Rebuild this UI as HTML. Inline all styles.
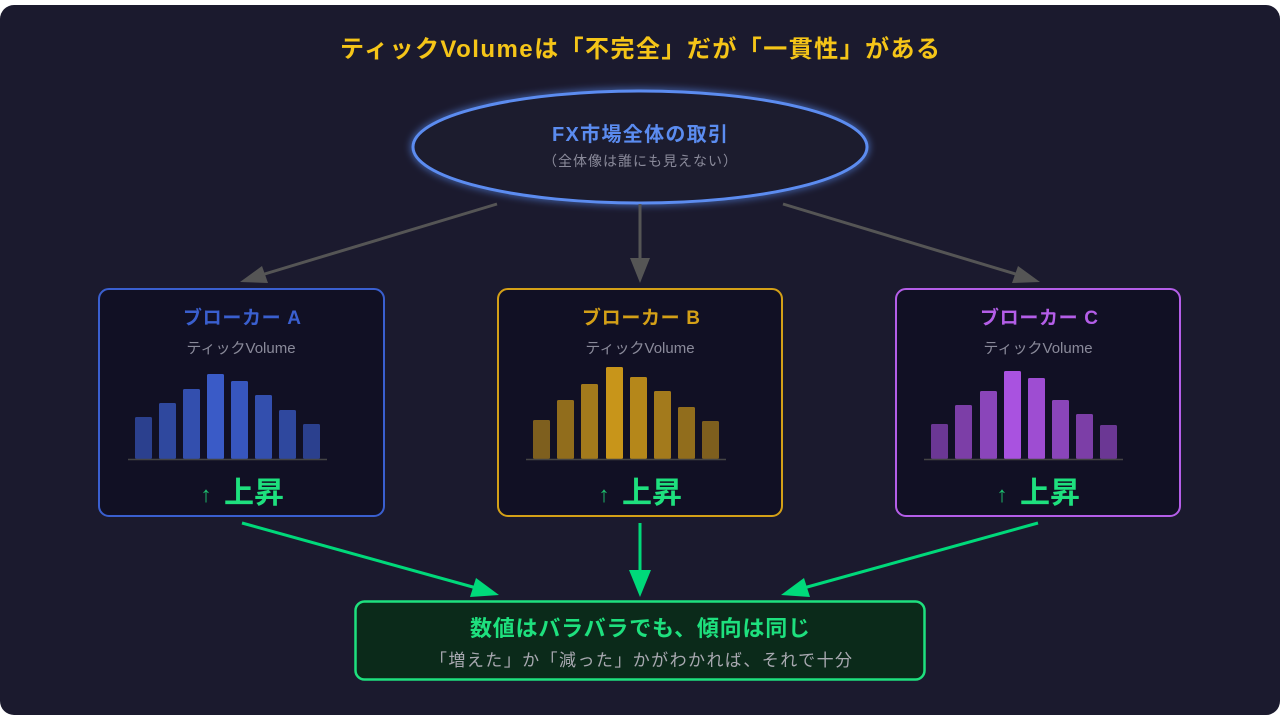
<!DOCTYPE html>
<html><head><meta charset="utf-8"><style>
html,body{margin:0;padding:0;background:#fff;width:1280px;height:720px;overflow:hidden}
svg{display:block}
text{font-family:"Liberation Sans","Noto Sans CJK JP",sans-serif}
</style></head><body>
<svg width="1280" height="720" viewBox="0 0 1280 720">
<defs>
<filter id="glow" x="-20%" y="-50%" width="140%" height="200%"><feGaussianBlur stdDeviation="4" result="b"/><feMerge><feMergeNode in="b"/><feMergeNode in="SourceGraphic"/></feMerge></filter>
</defs>
<rect x="0" y="5" width="1280" height="710" rx="14" fill="#1b1a2e"/>
<text x="340" y="57" font-size="24" font-weight="bold" fill="#f5c518" textLength="600" lengthAdjust="spacing">ティックVolumeは「不完全」だが「一貫性」がある</text>

<ellipse cx="640" cy="147" rx="227" ry="56" fill="#1b1a2e" stroke="#5b8cf0" stroke-width="3" filter="url(#glow)"/>
<text x="552" y="141" font-size="20" font-weight="bold" fill="#5b8cf0" textLength="176" lengthAdjust="spacing">FX市場全体の取引</text>
<text x="543" y="166" font-size="14" fill="#8a8a9a" textLength="194" lengthAdjust="spacing">（全体像は誰にも見えない）</text>

<g stroke="#555" stroke-width="3" fill="#555">
<line x1="497" y1="204" x2="258" y2="276"/>
<polygon points="240,282 262,266 268,283" stroke="none"/>
<line x1="640" y1="204" x2="640" y2="262"/>
<polygon points="640,283 630,258 650,258" stroke="none"/>
<line x1="783" y1="204" x2="1022" y2="276"/>
<polygon points="1040,282 1012,283 1018,266" stroke="none"/>
</g>

<rect x="99" y="289" width="285" height="227" rx="10" fill="#111024" stroke="#3a5fcf" stroke-width="2"/>
<text x="183" y="324" font-size="19" font-weight="bold" fill="#3a5fcf" textLength="118" lengthAdjust="spacing">ブローカー A</text>
<text x="241" y="353" text-anchor="middle" font-size="15" fill="#8a8a9a">ティックVolume</text>
<g fill="#3a5bc7">
<rect x="135" y="417" width="17" height="42" rx="1.5" opacity="0.65"/>
<rect x="159" y="403" width="17" height="56" rx="1.5" opacity="0.75"/>
<rect x="183" y="389" width="17" height="70" rx="1.5" opacity="0.85"/>
<rect x="207" y="374" width="17" height="85" rx="1.5"/>
<rect x="231" y="381" width="17" height="78" rx="1.5" opacity="0.95"/>
<rect x="255" y="395" width="17" height="64" rx="1.5" opacity="0.85"/>
<rect x="279" y="410" width="17" height="49" rx="1.5" opacity="0.75"/>
<rect x="303" y="424" width="17" height="35" rx="1.5" opacity="0.65"/>
</g>
<line x1="128" y1="459.5" x2="327" y2="459.5" stroke="#444" stroke-width="1.5"/>
<text x="206" y="502" text-anchor="middle" font-size="22" fill="#1fbf6e">↑</text>
<text x="254" y="503" text-anchor="middle" font-size="30" font-weight="bold" fill="#1ee07e">上昇</text>

<rect x="498" y="289" width="284" height="227" rx="10" fill="#111024" stroke="#d4a017" stroke-width="2"/>
<text x="582" y="324" font-size="19" font-weight="bold" fill="#d4a017" textLength="118" lengthAdjust="spacing">ブローカー B</text>
<text x="640" y="353" text-anchor="middle" font-size="15" fill="#8a8a9a">ティックVolume</text>
<g fill="#c8951a">
<rect x="533" y="420" width="17" height="39" rx="1.5" opacity="0.6"/>
<rect x="557" y="400" width="17" height="59" rx="1.5" opacity="0.7"/>
<rect x="581" y="384" width="17" height="75" rx="1.5" opacity="0.8"/>
<rect x="606" y="367" width="17" height="92" rx="1.5"/>
<rect x="630" y="377" width="17" height="82" rx="1.5" opacity="0.9"/>
<rect x="654" y="391" width="17" height="68" rx="1.5" opacity="0.8"/>
<rect x="678" y="407" width="17" height="52" rx="1.5" opacity="0.7"/>
<rect x="702" y="421" width="17" height="38" rx="1.5" opacity="0.6"/>
</g>
<line x1="526" y1="459.5" x2="726" y2="459.5" stroke="#444" stroke-width="1.5"/>
<text x="604" y="502" text-anchor="middle" font-size="22" fill="#1fbf6e">↑</text>
<text x="652" y="503" text-anchor="middle" font-size="30" font-weight="bold" fill="#1ee07e">上昇</text>

<rect x="896" y="289" width="284" height="227" rx="10" fill="#111024" stroke="#b45ee8" stroke-width="2"/>
<text x="980" y="324" font-size="19" font-weight="bold" fill="#b45ee8" textLength="118" lengthAdjust="spacing">ブローカー C</text>
<text x="1038" y="353" text-anchor="middle" font-size="15" fill="#8a8a9a">ティックVolume</text>
<g fill="#a952e0">
<rect x="931" y="424" width="17" height="35" rx="1.5" opacity="0.6"/>
<rect x="955" y="405" width="17" height="54" rx="1.5" opacity="0.7"/>
<rect x="980" y="391" width="17" height="68" rx="1.5" opacity="0.8"/>
<rect x="1004" y="371" width="17" height="88" rx="1.5"/>
<rect x="1028" y="378" width="17" height="81" rx="1.5" opacity="0.93"/>
<rect x="1052" y="400" width="17" height="59" rx="1.5" opacity="0.8"/>
<rect x="1076" y="414" width="17" height="45" rx="1.5" opacity="0.7"/>
<rect x="1100" y="425" width="17" height="34" rx="1.5" opacity="0.6"/>
</g>
<line x1="924" y1="459.5" x2="1123" y2="459.5" stroke="#444" stroke-width="1.5"/>
<text x="1002" y="502" text-anchor="middle" font-size="22" fill="#1fbf6e">↑</text>
<text x="1050" y="503" text-anchor="middle" font-size="30" font-weight="bold" fill="#1ee07e">上昇</text>

<g stroke="#00d97a" stroke-width="3" fill="#00d97a">
<line x1="242" y1="523" x2="480" y2="589"/>
<polygon points="499,595 470,597 476,578" stroke="none"/>
<line x1="640" y1="523" x2="640" y2="575"/>
<polygon points="640,597 629,570 651,570" stroke="none"/>
<line x1="1038" y1="523" x2="800" y2="589"/>
<polygon points="781,595 804,578 810,597" stroke="none"/>
</g>

<rect x="355.5" y="601.5" width="569" height="78" rx="9" fill="#0b2a1a" stroke="#1ee07e" stroke-width="2.5"/>
<text x="470" y="636" font-size="22" font-weight="bold" fill="#1ee07e" textLength="340" lengthAdjust="spacing">数値はバラバラでも、傾向は同じ</text>
<text x="430" y="666" font-size="17" fill="#a8a8b0" textLength="422" lengthAdjust="spacing">「増えた」か「減った」かがわかれば、それで十分</text>
</svg>
</body></html>
